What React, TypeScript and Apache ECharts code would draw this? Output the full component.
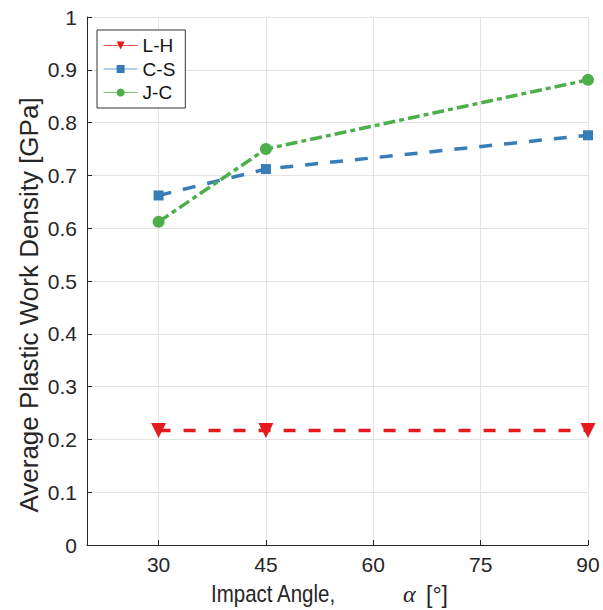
import React, { useEffect, useRef } from "react";
import * as echarts from "echarts";

const angles = [30, 45, 90];
const lhValues = [0.217, 0.217, 0.217];
const csValues = [0.662, 0.712, 0.776];
const jcValues = [0.612, 0.75, 0.881];
const xTicks = [30, 45, 60, 75, 90];
const seriesNames = ["L-H", "C-S", "J-C"];
const yTitle = "Average Plastic Work Density [GPa]";
const xTitleMain = "Impact Angle,";
const xTitleSymbol = "α";
const xTitleUnit = "[°]";

const FONT = "'Liberation Sans', Arial, sans-serif";
const TXT = "#262626";

export default function App() {
  const ref = useRef<HTMLDivElement>(null);
  useEffect(() => {
    if (!ref.current) return;
    const chart = echarts.init(ref.current, null, { renderer: "svg" });
    const pts = (vals: number[]) => angles.map((a, i) => [a, vals[i]]);
    chart.setOption({
      animation: false,
      backgroundColor: "#ffffff",
      textStyle: { fontFamily: FONT },
      grid: { left: 87, right: 15, top: 17, bottom: 65, containLabel: false },
      legend: {
        orient: "vertical",
        left: 97,
        top: 30,
        data: seriesNames,
        backgroundColor: "#ffffff",
        borderColor: "#333333",
        borderWidth: 1,
        borderRadius: 0,
        padding: [6, 10, 6, 6],
        itemGap: 4.5,
        itemWidth: 34,
        itemHeight: 10,
        lineStyle: { type: "solid", width: 1.2, opacity: 0.75 },
        textStyle: { fontFamily: FONT, fontSize: 19, color: "#111" },
      },
      graphic: [
        {
          type: "text",
          x: 29,
          y: 305,
          rotation: Math.PI / 2,
          style: {
            text: yTitle,
            fontFamily: FONT,
            fontSize: 26,
            fill: TXT,
            textAlign: "center",
            textVerticalAlign: "middle",
          },
        },
        {
          type: "text",
          x: 211,
          y: 594,
          scaleY: 1.13,
          style: { text: xTitleMain, fontFamily: FONT, fontSize: 20.5, fill: TXT, textAlign: "left", textVerticalAlign: "middle" },
        },
        {
          type: "text",
          x: 403,
          y: 594,
          style: {
            text: xTitleSymbol,
            fontFamily: "'Liberation Serif', 'DejaVu Serif', serif",
            fontStyle: "italic",
            fontSize: 24,
            fill: TXT,
            textAlign: "left",
            textVerticalAlign: "middle",
          },
        },
        {
          type: "text",
          x: 426,
          y: 594,
          scaleY: 1.08,
          style: { text: xTitleUnit, fontFamily: FONT, fontSize: 23, fill: TXT, textAlign: "left", textVerticalAlign: "middle" },
        },
      ],
      xAxis: {
        type: "value",
        min: 20,
        max: 90,
        axisLine: { show: true, onZero: false, lineStyle: { color: TXT, width: 1 } },
        axisTick: { show: true, inside: true, length: 5, customValues: xTicks, lineStyle: { color: TXT } },
        axisLabel: { customValues: xTicks, fontSize: 21, color: TXT, margin: 9, fontFamily: FONT },
        splitLine: { show: true, lineStyle: { color: "#e3e3e3", width: 1 } },
      },
      yAxis: {
        type: "value",
        min: 0,
        max: 1,
        interval: 0.1,
        axisLine: { show: true, lineStyle: { color: TXT, width: 1 } },
        axisTick: { show: true, inside: true, length: 5, lineStyle: { color: TXT } },
        axisLabel: {
          fontSize: 21,
          color: TXT,
          margin: 10,
          fontFamily: FONT,
          formatter: (v: number) => String(Math.round(v * 10) / 10),
        },
        splitLine: { show: true, lineStyle: { color: "#e3e3e3", width: 1 } },
      },
      series: [
        {
          name: "L-H",
          type: "line",
          data: pts(lhValues),
          symbol: "triangle",
          symbolRotate: 180,
          symbolSize: 15,
          color: "#E41A1C",
          itemStyle: { color: "#E41A1C" },
          lineStyle: { color: "#E41A1C", width: 3.5, type: [12, 13] },
          z: 3,
        },
        {
          name: "C-S",
          type: "line",
          data: pts(csValues),
          symbol: "rect",
          symbolSize: 10,
          color: "#377EB8",
          itemStyle: { color: "#377EB8" },
          lineStyle: { color: "#377EB8", width: 3.5, type: [13, 12] },
          z: 4,
        },
        {
          name: "J-C",
          type: "line",
          data: pts(jcValues),
          symbol: "circle",
          symbolSize: 12,
          color: "#4DAF4A",
          itemStyle: { color: "#4DAF4A" },
          lineStyle: { color: "#4DAF4A", width: 3.5, type: [12, 4, 5, 4] },
          z: 5,
        },
      ],
    });
    return () => chart.dispose();
  }, []);
  return <div ref={ref} style={{ width: 603, height: 610, position: "absolute", left: 0, top: 0 }} />;
}
